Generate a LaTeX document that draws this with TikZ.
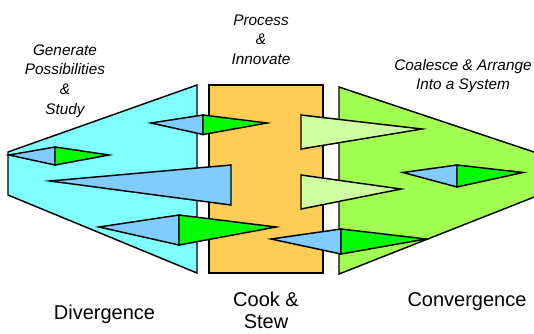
\documentclass[tikz,border=0pt]{standalone}
\usepackage{fontspec}
\setmainfont{Liberation Sans}
\definecolor{divcyan}{RGB}{128,255,255}
\definecolor{cookorange}{RGB}{255,204,85}
\definecolor{convgreen}{RGB}{160,255,80}
\definecolor{palegreen}{RGB}{206,255,160}
\definecolor{skyblue}{RGB}{128,204,255}
\definecolor{brightgreen}{RGB}{0,255,0}
\tikzset{
  outl/.style={draw=black, line width=1.1pt, line join=miter},
  toplabel/.style={font=\fontsize{11.5}{14.7}\selectfont\itshape, align=center, inner sep=0pt},
  botlabel/.style={font=\fontsize{15}{17}\selectfont, align=center, inner sep=0pt}
}
\begin{document}
\begin{tikzpicture}[x=0.75pt,y=-0.75pt]
\useasboundingbox (0,0) rectangle (534,333);
\clip (0,0) rectangle (534,333);
% main panels
\draw[outl, fill=divcyan] (8,152) -- (197,85) -- (197,273) -- (8,195) -- cycle;
\draw[outl, fill=cookorange] (209,85) rectangle (323,273);
\draw[outl, fill=convgreen] (339,87) -- (552,158) -- (552,190) -- (339,274) -- cycle;
% divergence arrows
\draw[outl, fill=skyblue] (9,155) -- (55,147) -- (55,165) -- cycle;
\draw[outl, fill=brightgreen] (55,147) -- (109,155) -- (55,165) -- cycle;
\draw[outl, fill=skyblue] (151,123) -- (203,115) -- (203,134.5) -- cycle;
\draw[outl, fill=brightgreen] (203,115) -- (267,123) -- (203,134.5) -- cycle;
\draw[outl, fill=skyblue] (50,181) -- (231,165) -- (231,205) -- cycle;
\draw[outl, fill=skyblue] (99,227) -- (179,215) -- (179,245) -- cycle;
\draw[outl, fill=brightgreen] (179,215) -- (276,227) -- (179,245) -- cycle;
% convergence arrows
\draw[outl, fill=palegreen] (301,115) -- (422,129) -- (301,149) -- cycle;
\draw[outl, fill=palegreen] (301,175) -- (401,189) -- (301,209) -- cycle;
\draw[outl, fill=skyblue] (271,239) -- (341,229) -- (341,254) -- cycle;
\draw[outl, fill=brightgreen] (341,229) -- (426,239) -- (341,254) -- cycle;
\draw[outl, fill=skyblue] (403,172.5) -- (457,165) -- (457,187) -- cycle;
\draw[outl, fill=brightgreen] (457,165) -- (523,172.5) -- (457,187) -- cycle;
% labels
\node[toplabel] (gen) at (65,81) {Generate\\Possibilities\\\&\\Study};
\node[toplabel] (proc) at (261,39.6) {Process\\\&\\Innovate};
\node[toplabel] (coal) at (463,76) {Coalesce \& Arrange\\Into a System};
\node[botlabel] (div) at (104.5,314) {Divergence};
\node[botlabel] (cook) at (266,310.5) {Cook \&\\Stew};
\node[botlabel] (conv) at (467,302) {Convergence};
\end{tikzpicture}
\end{document}
